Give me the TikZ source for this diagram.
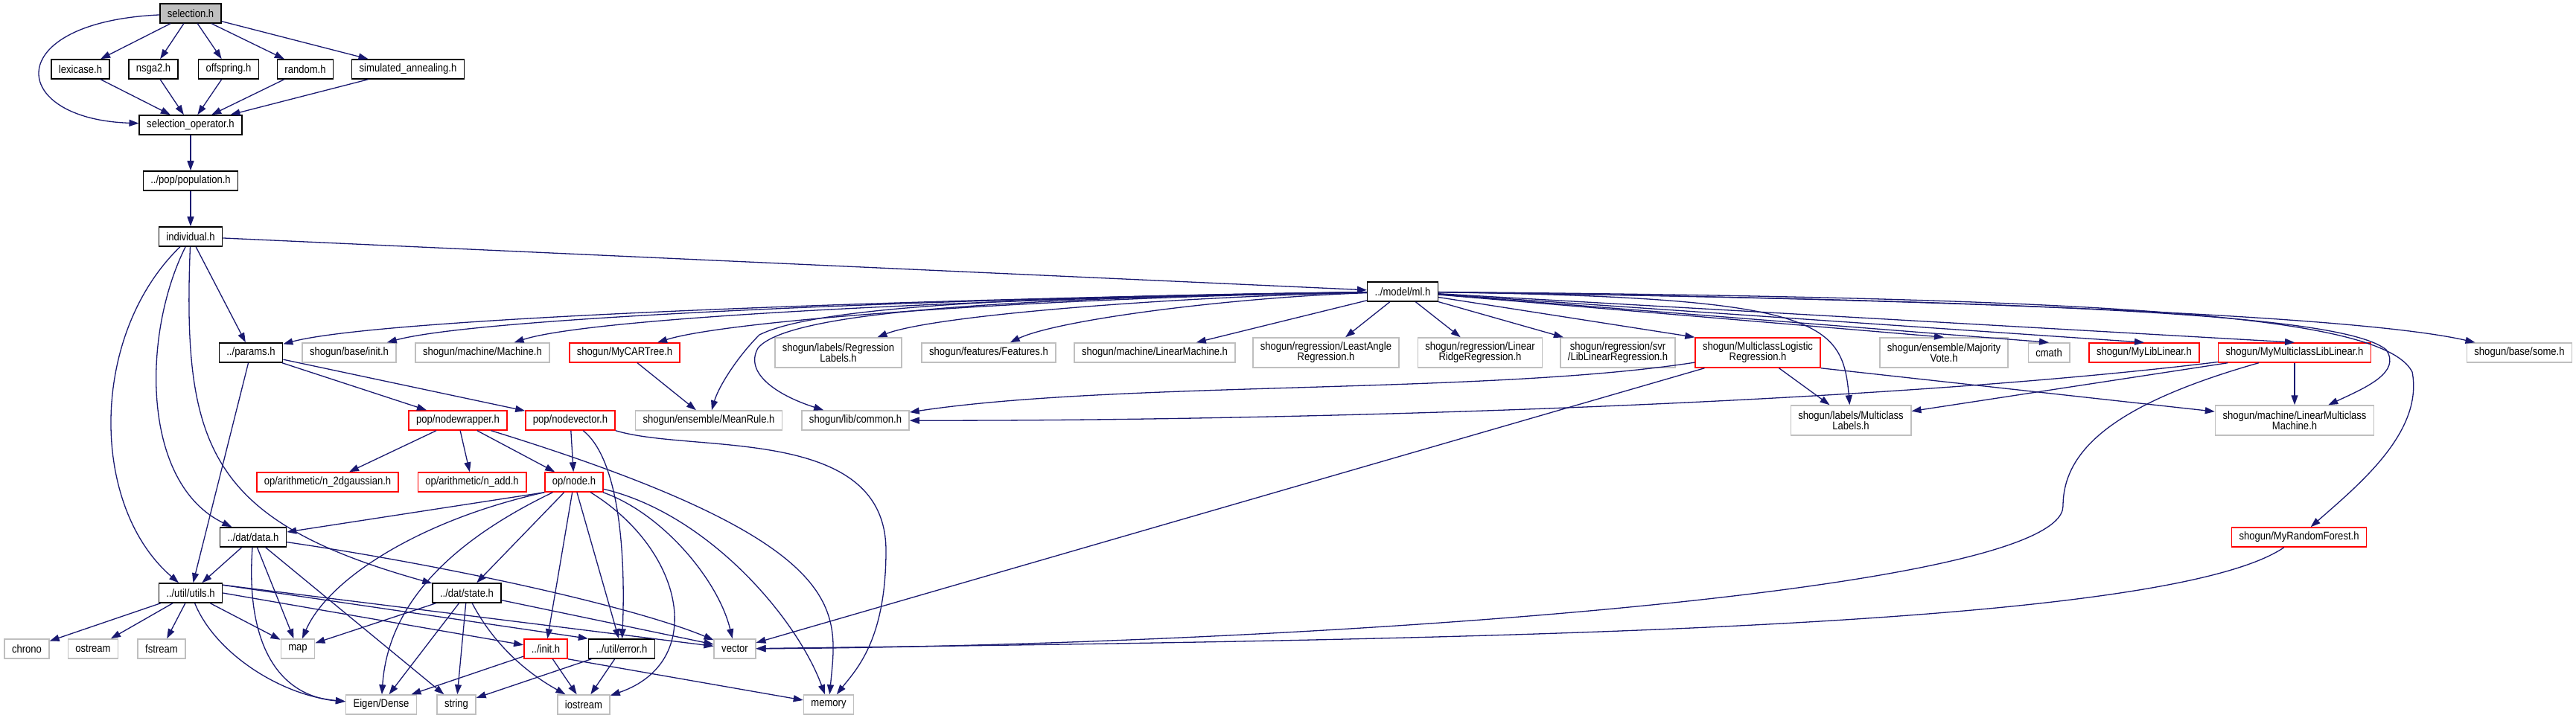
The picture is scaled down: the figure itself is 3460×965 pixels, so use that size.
\documentclass[tikz,border=0pt]{standalone}
\usepackage{fontspec}
\setmainfont{Liberation Sans}[FakeStretch=0.87]
\usetikzlibrary{arrows.meta}

\begin{document}
\begin{tikzpicture}[x=1pt, y=-1pt,
  hfile/.style={draw=black, fill=white, line width=1.5pt, minimum height=26pt, inner xsep=10pt, inner ysep=1pt, font=\fontsize{15}{14}\selectfont, align=center},
  hext/.style={hfile, draw=extgrey},
  hred/.style={hfile, draw=truncred},
  tall/.style={minimum height=40pt},
  incl/.style={draw=edgeblue, line width=1.3pt, -{Triangle[length=13pt, width=9pt]}}]
\definecolor{edgeblue}{RGB}{25,25,112}
\definecolor{extgrey}{RGB}{191,191,191}
\definecolor{truncred}{RGB}{255,0,0}
\definecolor{rootgrey}{RGB}{191,191,191}
\useasboundingbox (0,0) rectangle (3460,965);
% upper ranks
\node[hfile, fill=rootgrey] (sel) at (256,18) {selection.h};
\node[hfile] (lex) at (108,93) {lexicase.h};
\node[hfile] (nsga) at (206,93) {nsga2.h};
\node[hfile] (offs) at (307,93) {offspring.h};
\node[hfile] (rand) at (410,93) {random.h};
\node[hfile] (siman) at (548,93) {simulated\_annealing.h};
\node[hfile] (selop) at (256,168) {selection\_operator.h};
\node[hfile] (pop) at (256,243) {../pop/population.h};
\node[hfile] (indiv) at (256,318) {individual.h};
\node[hfile] (ml) at (1884,392) {../model/ml.h};
% rank of ../params.h
\node[hfile] (params) at (337,474) {../params.h};
\node[hext] (binit) at (469,474) {shogun/base/init.h};
\node[hext] (mach) at (648,474) {shogun/machine/Machine.h};
\node[hred] (cart) at (839,474) {shogun/MyCARTree.h};
\node[hext, tall] (reglab) at (1126,474) {shogun/labels/Regression\\Labels.h};
\node[hext] (feat) at (1328,474) {shogun/features/Features.h};
\node[hext] (linmach) at (1551,474) {shogun/machine/LinearMachine.h};
\node[hext, tall] (lars) at (1781,474) {shogun/regression/LeastAngle\\Regression.h};
\node[hext, tall] (ridge) at (1988,474) {shogun/regression/Linear\\RidgeRegression.h};
\node[hext, tall] (svr) at (2173,474) {shogun/regression/svr\\/LibLinearRegression.h};
\node[hred, tall] (mlogit) at (2361,474) {shogun/MulticlassLogistic\\Regression.h};
\node[hext, tall] (vote) at (2611,474) {shogun/ensemble/Majority\\Vote.h};
\node[hext] (cmath) at (2752,474) {cmath};
\node[hred] (mylib) at (2880,474) {shogun/MyLibLinear.h};
\node[hred] (mymc) at (3082,474) {shogun/MyMulticlassLibLinear.h};
\node[hext] (some) at (3384,474) {shogun/base/some.h};
% rank of pop/nodewrapper.h
\node[hred] (nwrap) at (615,565) {pop/nodewrapper.h};
\node[hred] (nvec) at (766,565) {pop/nodevector.h};
\node[hext] (mean) at (952,565) {shogun/ensemble/MeanRule.h};
\node[hext] (common) at (1149,565) {shogun/lib/common.h};
\node[hext, tall] (mclab) at (2486,565) {shogun/labels/Multiclass\\Labels.h};
\node[hext, tall] (lmcm) at (3082,565) {shogun/machine/LinearMulticlass\\Machine.h};
% lower ranks
\node[hred] (gauss) at (440,648) {op/arithmetic/n\_2dgaussian.h};
\node[hred] (nadd) at (634,648) {op/arithmetic/n\_add.h};
\node[hred] (node) at (771,648) {op/node.h};
\node[hfile] (data) at (340,722) {../dat/data.h};
\node[hred] (forest) at (3088,722) {shogun/MyRandomForest.h};
\node[hfile] (utils) at (256,797) {../util/utils.h};
\node[hfile] (state) at (627,797) {../dat/state.h};
\node[hext] (chrono) at (36,872) {chrono};
\node[hext] (ostream) at (125,872) {ostream};
\node[hext] (fstream) at (217,872) {fstream};
\node[hext] (map) at (400,872) {map};
\node[hred] (init) at (733,872) {../init.h};
\node[hfile] (error) at (835,872) {../util/error.h};
\node[hext] (vector) at (987,872) {vector};
\node[hext] (eigen) at (512,947) {Eigen/Dense};
\node[hext] (string) at (613,947) {string};
\node[hext] (iostream) at (784,947) {iostream};
\node[hext] (memory) at (1113,947) {memory};
% selection.h
\draw[incl] (sel) -- (lex);
\draw[incl] (sel) -- (nsga);
\draw[incl] (sel) -- (offs);
\draw[incl] (sel) -- (rand);
\draw[incl] (sel) -- (siman);
\draw[incl] (sel) .. controls (0,30) and (10,160) .. (selop);
\draw[incl] (lex) -- (selop);
\draw[incl] (nsga) -- (selop);
\draw[incl] (offs) -- (selop);
\draw[incl] (rand) -- (selop);
\draw[incl] (siman) -- (selop);
\draw[incl] (selop) -- (pop);
\draw[incl] (pop) -- (indiv);
% individual.h
\draw[incl] (indiv) -- (ml);
\draw[incl] (indiv) -- (params);
\draw[incl] (indiv) .. controls (120,450) and (120,680) .. (utils);
\draw[incl] (indiv) .. controls (190,450) and (190,650) .. (data);
\draw[incl] (indiv) .. controls (245,600) and (280,700) .. (state);
% ../model/ml.h
\draw[incl] (ml) .. controls (1300,400) and (520,425) .. (params);
\draw[incl] (ml) .. controls (1300,400) and (650,425) .. (binit);
\draw[incl] (ml) .. controls (1350,400) and (800,425) .. (mach);
\draw[incl] (ml) .. controls (1400,400) and (980,430) .. (cart);
\draw[incl] (ml) .. controls (1400,398) and (1100,410) .. (1020,450) .. controls (990,480) and (965,520) .. (mean);
\draw[incl] (ml) .. controls (1400,400) and (1060,415) .. (1018,468) .. controls (1000,500) and (1040,530) .. (common);
\draw[incl] (ml) .. controls (1550,400) and (1250,425) .. (reglab);
\draw[incl] (ml) .. controls (1650,400) and (1420,430) .. (feat);
\draw[incl] (ml) -- (linmach);
\draw[incl] (ml) -- (lars);
\draw[incl] (ml) -- (ridge);
\draw[incl] (ml) -- (svr);
\draw[incl] (ml) -- (mlogit.north west);
\draw[incl] (ml) .. controls (2440,400) and (2475,430) .. (mclab);
\draw[incl] (ml) -- (vote.north);
\draw[incl] (ml) -- (cmath.north);
\draw[incl] (ml) -- (mylib.north);
\draw[incl] (ml) -- (mymc.north);
\draw[incl] (ml) .. controls (2800,405) and (3150,425) .. (3205,470) .. controls (3225,500) and (3180,520) .. (lmcm);
\draw[incl] (ml) .. controls (2800,400) and (3200,420) .. (3240,500) .. controls (3255,580) and (3170,650) .. (forest);
\draw[incl] (ml) .. controls (2500,400) and (3150,420) .. (some);
% ../params.h
\draw[incl] (params) -- (utils);
\draw[incl] (params) -- (nwrap);
\draw[incl] (params) -- (nvec);
\draw[incl] (cart) -- (mean);
% shogun multiclass headers
\draw[incl] (mlogit) .. controls (2000,530) and (1500,512) .. (common);
\draw[incl] (mlogit) -- (mclab);
\draw[incl] (mlogit.south east) -- (lmcm);
\draw[incl] (mlogit) -- (vector);
\draw[incl] (mymc) .. controls (2500,545) and (1700,566) .. (common);
\draw[incl] (mymc) -- (mclab);
\draw[incl] (mymc) -- (lmcm);
\draw[incl] (mymc) .. controls (2850,540) and (2771,600) .. (2771,680) .. controls (2771,800) and (1700,868) .. (vector);
\draw[incl] (forest) .. controls (2900,850) and (1900,860) .. (vector);
% pop/nodewrapper.h and pop/nodevector.h
\draw[incl] (nwrap) -- (gauss);
\draw[incl] (nwrap) -- (nadd);
\draw[incl] (nwrap) -- (node);
\draw[incl] (nwrap) .. controls (1150,730) and (1125,820) .. (memory);
\draw[incl] (nvec) -- (node);
\draw[incl] (nvec) .. controls (835,620) and (840,760) .. (error);
\draw[incl] (nvec.south east) .. controls (930,610) and (1190,570) .. (1190,740) .. controls (1190,860) and (1150,900) .. (memory);
% op/node.h
\draw[incl] (node.south west) -- (data);
\draw[incl] (node.south west) .. controls (560,700) and (440,780) .. (map);
\draw[incl] (node) .. controls (580,740) and (520,830) .. (eigen);
\draw[incl] (node) -- (state);
\draw[incl] (node) -- (init);
\draw[incl] (node) -- (error);
\draw[incl] (node) .. controls (920,740) and (950,890) .. (iostream);
\draw[incl] (node) .. controls (890,690) and (965,780) .. (vector);
\draw[incl] (node) .. controls (950,690) and (1070,830) .. (memory);
% ../dat/data.h
\draw[incl] (data) -- (utils);
\draw[incl] (data) .. controls (330,860) and (370,935) .. (eigen);
\draw[incl] (data) -- (map);
\draw[incl] (data) -- (string);
\draw[incl] (data) .. controls (600,760) and (850,815) .. (vector);
% ../util/utils.h
\draw[incl] (utils) -- (chrono);
\draw[incl] (utils) -- (ostream);
\draw[incl] (utils) -- (fstream);
\draw[incl] (utils) -- (map);
\draw[incl] (utils) .. controls (290,880) and (380,935) .. (eigen);
\draw[incl] (utils.east) -- (init);
\draw[incl] ([yshift=-3pt]utils.north east) -- (error.north west);
\draw[incl] ([yshift=-3pt]utils.north east) -- (vector);
% ../dat/state.h
\draw[incl] (state) -- (map);
\draw[incl] (state) -- (eigen);
\draw[incl] (state) -- (string);
\draw[incl] (state) .. controls (660,860) and (700,900) .. (iostream);
\draw[incl] (state) -- (vector);
% ../init.h and ../util/error.h
\draw[incl] (init) -- (eigen);
\draw[incl] (init) -- (iostream);
\draw[incl] (init.south east) -- (memory);
\draw[incl] (error) -- (string);
\draw[incl] (error) -- (iostream);
\end{tikzpicture}
\end{document}
